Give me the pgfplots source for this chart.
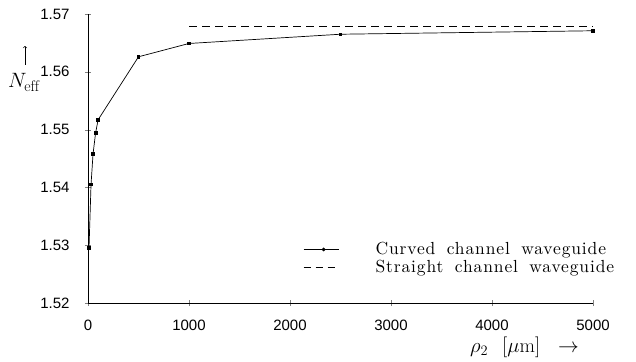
\documentclass[border=0pt]{standalone}
\usepackage{fontspec}
\setsansfont{Liberation Sans}
\newfontfamily\legfont[LetterSpace=5,WordSpace=1.7]{lmroman10-regular.otf}
\usepackage{pgfplots}
\pgfplotsset{compat=1.18}
\begin{document}
\begin{tikzpicture}
\begin{axis}[
  at={(0,0)}, anchor=south west,
  scale only axis, width=505pt, height=289pt,
  xmin=0, xmax=5000, ymin=1.52, ymax=1.57,
  axis lines*=left,
  axis line style={line width=0.6pt},
  xtick={0,1000,2000,3000,4000,5000},
  ytick={1.52,1.53,1.54,1.55,1.56,1.57},
  yticklabel style={/pgf/number format/fixed,/pgf/number format/precision=2,/pgf/number format/fixed zerofill},
  xticklabel style={/pgf/number format/set thousands separator={}},
  /pgf/number format/assume math mode=true,
  tick label style={font=\sffamily\fontsize{15}{17}\selectfont},
  tick align=center, major tick length=6pt,
  xticklabel shift=10pt,
  yticklabel shift=12pt,
  clip=false,
  legend style={draw=none, fill=none, at={(0.42,0.085)}, anchor=south west, font=\legfont\fontsize{17.5}{19}\selectfont, row sep=0pt},
  legend cell align=left,
]
\addplot[black, line width=0.7pt, mark=square*, mark size=1.3pt,
  legend image code/.code={\path[draw=none] (0pt,0pt) -- (70pt,0pt); \draw[black, line width=0.6pt] (0pt,0pt) -- (35pt,0pt); \fill[black] (20pt,0pt) circle (1.5pt);}] coordinates {
(10,1.5295) (30,1.5405) (50,1.5458) (75,1.5494) (100,1.5517) (500,1.5626) (1000,1.5649) (2500,1.5665) (5000,1.5671)};
\addlegendentry{Curved channel waveguide}
\addplot[black, line width=0.5pt, dash pattern=on 8pt off 5pt,
  legend image code/.code={\path[draw=none] (0pt,0pt) -- (70pt,0pt); \draw[black, line width=0.6pt, dash pattern=on 7pt off 5pt] (0pt,0pt) -- (35pt,0pt);}] coordinates {(1000,1.5678) (5000,1.5678)};
\addlegendentry{Straight channel waveguide}
\end{axis}
\node[font=\fontsize{22}{24}\selectfont, anchor=base west, inner sep=0pt] at (-80pt,215pt) {$N_{\mathrm{eff}}$};
\draw[->, line width=0.6pt] (-63pt,238pt) -- (-63pt,257pt);
\node[font=\fontsize{20}{22}\selectfont, anchor=base west, inner sep=0pt] at (382pt,-49pt) {$\rho_2$\hspace{14pt}$[\mu\mathrm{m}]$\hspace{18pt}$\rightarrow$};
\useasboundingbox (-88pt,-58pt) rectangle (548pt,303pt);
\end{tikzpicture}
\end{document}
